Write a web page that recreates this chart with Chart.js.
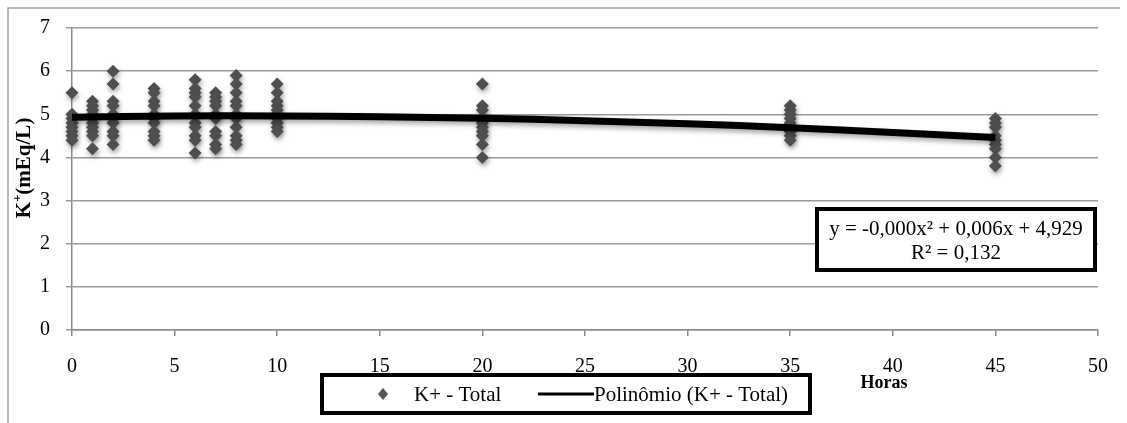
<!DOCTYPE html>
<html><head><meta charset="utf-8">
<script src="https://cdn.jsdelivr.net/npm/chart.js@4.4.1/dist/chart.umd.min.js"></script>
<style>html,body{margin:0;padding:0;background:#fff}#wrap{width:1127px;height:423px;position:relative}</style>
</head><body><div id="wrap"><canvas id="c" width="1127" height="423"></canvas></div>
<script>
// Measured K+ (mEq/L) per sampling hour
const hours = [0, 1, 2, 4, 6, 7, 8, 10, 20, 35, 45];
const k_h0  = [5.5, 5.0, 4.9, 4.8, 4.7, 4.6, 4.5, 4.4];
const k_h1  = [5.3, 5.2, 5.1, 5.0, 4.9, 4.8, 4.7, 4.6, 4.5, 4.2];
const k_h2  = [6.0, 5.7, 5.3, 5.2, 5.0, 4.9, 4.8, 4.6, 4.5, 4.3];
const k_h4  = [5.6, 5.5, 5.3, 5.2, 5.0, 4.9, 4.8, 4.6, 4.5, 4.4];
const k_h6  = [5.8, 5.6, 5.5, 5.4, 5.2, 5.0, 4.8, 4.7, 4.5, 4.4, 4.1];
const k_h7  = [5.5, 5.4, 5.3, 5.2, 5.0, 4.9, 4.6, 4.5, 4.3, 4.2];
const k_h8  = [5.9, 5.7, 5.5, 5.3, 5.2, 5.0, 4.9, 4.7, 4.5, 4.4, 4.3];
const k_h10 = [5.7, 5.5, 5.3, 5.2, 5.1, 5.0, 4.9, 4.8, 4.7, 4.6];
const k_h20 = [5.7, 5.2, 5.1, 4.9, 4.8, 4.7, 4.6, 4.5, 4.3, 4.0];
const k_h35 = [5.2, 5.1, 5.0, 4.9, 4.8, 4.7, 4.6, 4.5, 4.4];
const k_h45 = [4.9, 4.8, 4.7, 4.5, 4.4, 4.3, 4.2, 4.0, 3.8];
const kByHour = [k_h0, k_h1, k_h2, k_h4, k_h6, k_h7, k_h8, k_h10, k_h20, k_h35, k_h45];

// Polynomial trend line
const trendX = [0, 5, 10, 15, 20, 25, 30, 35, 40, 45];
const trendY = [4.93, 4.96, 4.96, 4.94, 4.91, 4.85, 4.78, 4.69, 4.58, 4.46];

const xTicks = [0, 5, 10, 15, 20, 25, 30, 35, 40, 45, 50];
const yTicks = [0, 1, 2, 3, 4, 5, 6, 7];

const seriesLabel = 'K+ - Total';
const trendLabel = 'Polinômio (K+ - Total)';
const equationLines = ['y = -0,000x² + 0,006x + 4,929', 'R² = 0,132'];

const scatterPts = [];
hours.forEach((h, i) => kByHour[i].forEach(v => scatterPts.push({x: h, y: v})));
const trendPts = trendX.map((x, i) => ({x, y: trendY[i]}));

const FONT = '"Liberation Serif", "Times New Roman", serif';

const shadowPlugin = {
  id: 'shadow',
  beforeDatasetDraw(chart, args) {
    const ctx = chart.ctx; ctx.save();
    ctx.shadowColor = 'rgba(0,0,0,0.35)';
    ctx.shadowBlur = 5; ctx.shadowOffsetX = 1; ctx.shadowOffsetY = 3;
  },
  afterDatasetDraw(chart) { chart.ctx.restore(); }
};

const decoPlugin = {
  id: 'deco',
  beforeDraw(chart) {
    const ctx = chart.ctx; ctx.save();
    ctx.fillStyle = '#fff'; ctx.fillRect(0, 0, chart.width, chart.height);
    ctx.strokeStyle = '#a0a0a0'; ctx.lineWidth = 1.5;
    ctx.beginPath(); ctx.moveTo(8, 423); ctx.lineTo(8, 8); ctx.lineTo(1120, 8); ctx.stroke();
    ctx.restore();
  },
  afterDraw(chart) {
    const ctx = chart.ctx; ctx.save();
    // y title
    ctx.save();
    ctx.translate(25, 168); ctx.rotate(-Math.PI / 2);
    ctx.fillStyle = '#000'; ctx.textBaseline = 'middle';
    ctx.font = 'bold 21px ' + FONT;
    const a = 'K', b = '+', c = '(mEq/L)';
    const wa = ctx.measureText(a).width, wc = ctx.measureText(c).width;
    ctx.font = 'bold 13px ' + FONT; const wb = ctx.measureText(b).width;
    let x0 = -(wa + wb + wc) / 2;
    ctx.textAlign = 'left';
    ctx.font = 'bold 21px ' + FONT; ctx.fillText(a, x0, 0);
    ctx.font = 'bold 13px ' + FONT; ctx.fillText(b, x0 + wa, -7);
    ctx.font = 'bold 21px ' + FONT; ctx.fillText(c, x0 + wa + wb, 0);
    ctx.restore();
    // x title
    ctx.fillStyle = '#000'; ctx.font = 'bold 18px ' + FONT;
    ctx.textAlign = 'center'; ctx.textBaseline = 'middle';
    ctx.fillText('Horas', 884, 383);
    // equation box
    ctx.fillStyle = '#fff'; ctx.fillRect(817, 209, 278, 61);
    ctx.strokeStyle = '#000'; ctx.lineWidth = 4;
    ctx.strokeRect(817, 209, 278, 61);
    ctx.fillStyle = '#000'; ctx.font = '21px ' + FONT;
    ctx.fillText(equationLines[0], 956, 229);
    ctx.fillText(equationLines[1], 956, 253);
    // legend box
    ctx.fillStyle = '#fff'; ctx.fillRect(322, 375, 488, 38);
    ctx.strokeRect(322, 375, 488, 38);
    // legend items
    ctx.fillStyle = '#555';
    ctx.beginPath(); ctx.moveTo(383, 388); ctx.lineTo(388, 394); ctx.lineTo(383, 400); ctx.lineTo(378, 394); ctx.closePath(); ctx.fill();
    ctx.fillStyle = '#000'; ctx.textAlign = 'left'; ctx.font = '21px ' + FONT;
    ctx.fillText(chart.data.datasets[0].label, 414, 395);
    ctx.strokeStyle = '#000'; ctx.lineWidth = 3;
    ctx.beginPath(); ctx.moveTo(538, 394); ctx.lineTo(594, 394); ctx.stroke();
    ctx.fillText(chart.data.datasets[1].label, 594, 395);
    ctx.restore();
  }
};

new Chart(document.getElementById('c'), {
  type: 'scatter',
  data: {
    datasets: [
      { label: seriesLabel, data: scatterPts, pointStyle: 'rectRot', pointRadius: 6.5,
        backgroundColor: '#4f4f4f', borderColor: '#4f4f4f', borderWidth: 0, order: 2, clip: false },
      { label: trendLabel, type: 'line', data: trendPts, borderColor: '#000', borderWidth: 7,
        pointRadius: 0, tension: 0.4, fill: false, order: 1, clip: false }
    ]
  },
  options: {
    responsive: false, animation: false,
    layout: { padding: { left: 0, right: 29, top: 28, bottom: 0 } },
    plugins: { legend: { display: false }, tooltip: { enabled: false } },
    scales: {
      x: {
        type: 'linear', min: 0, max: 50,
        afterBuildTicks: s => { s.ticks = xTicks.map(v => ({value: v})); },
        afterFit: s => { s.height = 93; },
        grid: { drawOnChartArea: false, drawTicks: true, tickLength: 6, color: '#8a8a8a', lineWidth: 1.5 },
        border: { display: true, color: '#8a8a8a', width: 1.5 },
        ticks: { color: '#000', font: { family: FONT, size: 20 }, padding: 19, maxRotation: 0 }
      },
      y: {
        min: 0, max: 7,
        afterBuildTicks: s => { s.ticks = yTicks.map(v => ({value: v})); },
        afterFit: s => { s.width = 72; },
        grid: { drawTicks: true, tickLength: 6, color: '#9a9a9a', lineWidth: 1.5 },
        border: { display: true, color: '#8a8a8a', width: 1.5 },
        ticks: { color: '#000', font: { family: FONT, size: 20 }, padding: 16 }
      }
    }
  },
  plugins: [decoPlugin, shadowPlugin]
});
</script></body></html>
